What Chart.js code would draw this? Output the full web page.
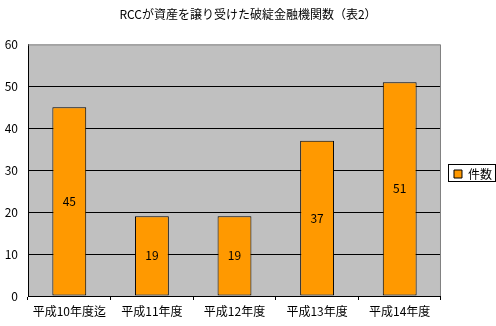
<!DOCTYPE html>
<html><head><meta charset="utf-8">
<script src="https://cdn.jsdelivr.net/npm/chart.js@4/dist/chart.umd.min.js"></script>
<style>html,body{margin:0;padding:0;background:#fff}#wrap{width:496px;height:326px;position:relative}</style>
</head><body><div id="wrap"><canvas id="c" width="496" height="326"></canvas></div>
<script>
const titleText = 'RCCが資産を譲り受けた破綻金融機関数（表2）';
const categories = ['平成10年度迄', '平成11年度', '平成12年度', '平成13年度', '平成14年度'];
const seriesName = '件数';
const counts = [45, 19, 19, 37, 51];
const yTicks = [0, 10, 20, 30, 40, 50, 60];

const FONT = '"Noto Sans CJK JP", "DejaVu Sans", sans-serif';

const legendShift = {
  id: 'legendShift',
  afterLayout(chart) {
    const lg = chart.legend;
    if (!lg) return;
    lg.left += 6; lg.right += 6;
    lg.top += 11; lg.bottom += 11;
  }
};

const plotDeco = {
  id: 'plotDeco',
  beforeDraw(chart) {
    const a = chart.chartArea, ctx = chart.ctx;
    ctx.save();
    ctx.fillStyle = '#C0C0C0';
    ctx.fillRect(a.left, a.top, a.right - a.left, a.bottom - a.top);
    ctx.restore();
  },
  afterDraw(chart) {
    const a = chart.chartArea, ctx = chart.ctx;
    ctx.save();
    ctx.strokeStyle = '#808080';
    ctx.lineWidth = 1;
    ctx.beginPath();
    ctx.moveTo(a.left, a.top + 0.5);
    ctx.lineTo(a.right - 0.5, a.top + 0.5);
    ctx.lineTo(a.right - 0.5, a.bottom);
    ctx.stroke();
    const lg = chart.legend;
    if (lg && lg.legendHitBoxes && lg.legendHitBoxes.length) {
      const hb = lg.legendHitBoxes[0];
      ctx.strokeStyle = '#000';
      ctx.strokeRect(Math.round(hb.left) - 5.5, Math.round(hb.top) - 3.5, Math.round(hb.width) + 9, Math.round(hb.height) + 5);
    }
    ctx.restore();
  }
};

const barLabels = {
  id: 'barLabels',
  afterDatasetsDraw(chart) {
    const ctx = chart.ctx;
    const meta = chart.getDatasetMeta(0);
    ctx.save();
    ctx.fillStyle = '#000';
    ctx.font = '12px ' + FONT;
    ctx.textAlign = 'center';
    ctx.textBaseline = 'middle';
    meta.data.forEach((bar, i) => {
      const v = chart.data.datasets[0].data[i];
      ctx.fillText(String(v), bar.x, (bar.y + bar.base) / 2);
    });
    ctx.restore();
  }
};

new Chart(document.getElementById('c'), {
  type: 'bar',
  data: {
    labels: categories,
    datasets: [{
      label: seriesName,
      data: counts,
      backgroundColor: '#FF9900',
      borderColor: '#000',
      borderWidth: 1,
      borderSkipped: false,
      categoryPercentage: 0.82,
      barPercentage: 0.5
    }]
  },
  options: {
    responsive: false,
    animation: false,
    devicePixelRatio: 1,
    layout: { padding: { left: 0, right: 0, top: 0, bottom: 0 } },
    plugins: {
      title: {
        display: true, text: titleText, color: '#000',
        font: { family: FONT, size: 12, weight: 'normal' },
        padding: { top: 7, bottom: 23 }
      },
      legend: {
        display: true, position: 'right',
        labels: {
          color: '#000', boxWidth: 8, boxHeight: 8, padding: 7,
          font: { family: FONT, size: 12 },
          generateLabels(chart) {
            return [{ text: seriesName, fillStyle: '#FF9900', strokeStyle: '#000', lineWidth: 1, datasetIndex: 0 }];
          }
        }
      },
      tooltip: { enabled: false }
    },
    scales: {
      x: {
        offset: true,
        grid: { offset: true, drawOnChartArea: false, drawTicks: true, tickLength: 4, color: '#000' },
        border: { color: '#000', width: 1 },
        ticks: { color: '#000', font: { family: FONT, size: 12 }, padding: 4, maxRotation: 0, autoSkip: false },
        afterFit(s) { s.height = 30; }
      },
      y: {
        min: 0, max: 60,
        afterBuildTicks(s) { s.ticks = yTicks.map(v => ({ value: v })); },
        grid: {
          drawTicks: false,
          color: (c) => (c.tick && (c.tick.value === 0 || c.tick.value === 60)) ? 'rgba(0,0,0,0)' : '#000'
        },
        border: { color: '#000', width: 1 },
        ticks: { color: '#000', font: { family: FONT, size: 12 }, padding: 10 },
        afterFit(s) { s.width = 28; }
      }
    }
  },
  plugins: [legendShift, plotDeco, barLabels]
});
</script></body></html>
